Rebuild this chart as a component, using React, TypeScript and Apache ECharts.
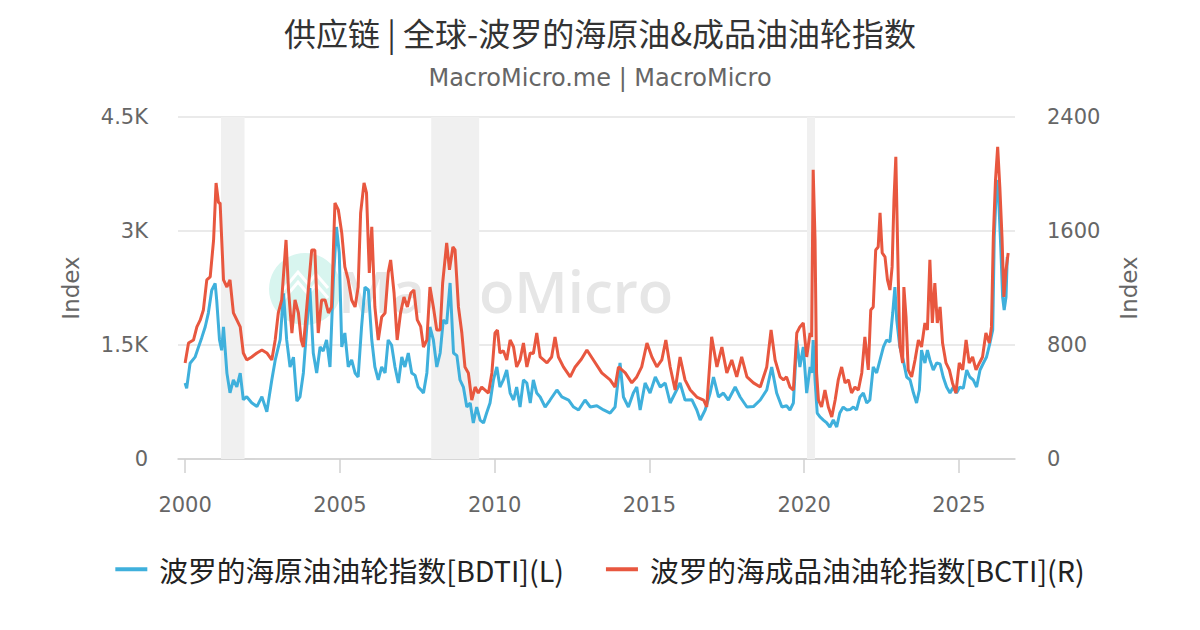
import React, { useEffect, useRef } from "react";
import * as echarts from "echarts";

const titleText = "供应链 | 全球-波罗的海原油&成品油油轮指数";
const subtitleText = "MacroMicro.me | MacroMicro";
const bdtiName = "波罗的海原油油轮指数[BDTI](L)";
const bctiName = "波罗的海成品油油轮指数[BCTI](R)";

const xTickYears = [2000, 2005, 2010, 2015, 2020, 2025];
const recessions = [
  [2001.16, 2001.92],
  [2007.95, 2009.5],
  [2020.09, 2020.35],
];

const bdtiYears = [
  2000.0, 2000.05, 2000.16, 2000.32, 2000.43, 2000.54, 2000.65, 2000.75, 2000.86, 2000.97,
  2001.02, 2001.11, 2001.18, 2001.24, 2001.35, 2001.45, 2001.56, 2001.67, 2001.78, 2001.88,
  2001.99, 2002.15, 2002.32, 2002.48, 2002.64, 2002.8, 2002.91, 2003.07, 2003.18, 2003.28,
  2003.39, 2003.5, 2003.61, 2003.71, 2003.82, 2003.93, 2004.03, 2004.14, 2004.25, 2004.36,
  2004.46, 2004.57, 2004.68, 2004.79, 2004.89, 2004.98, 2005.06, 2005.16, 2005.27, 2005.38,
  2005.49, 2005.59, 2005.7, 2005.81, 2005.92, 2006.03, 2006.13, 2006.24, 2006.35, 2006.46,
  2006.56, 2006.67, 2006.78, 2006.89, 2007.0, 2007.1, 2007.21, 2007.32, 2007.43, 2007.53,
  2007.64, 2007.7, 2007.81, 2007.91, 2008.02, 2008.13, 2008.24, 2008.34, 2008.45, 2008.56,
  2008.67, 2008.78, 2008.88, 2008.99, 2009.1, 2009.21, 2009.31, 2009.42, 2009.53, 2009.64,
  2009.74, 2009.85, 2009.96, 2010.07, 2010.17, 2010.28, 2010.39, 2010.5, 2010.61, 2010.71,
  2010.82, 2010.93, 2011.04, 2011.15, 2011.25, 2011.36, 2011.47, 2011.63, 2011.79, 2012.01,
  2012.17, 2012.39, 2012.55, 2012.71, 2012.92, 2013.09, 2013.3, 2013.52, 2013.73, 2013.89,
  2014.05, 2014.16, 2014.32, 2014.48, 2014.59, 2014.7, 2014.86, 2015.02, 2015.19, 2015.35,
  2015.51, 2015.67, 2015.83, 2015.99, 2016.15, 2016.37, 2016.53, 2016.64, 2016.8, 2016.96,
  2017.07, 2017.23, 2017.39, 2017.55, 2017.77, 2017.93, 2018.15, 2018.36, 2018.58, 2018.79,
  2018.95, 2019.11, 2019.28, 2019.43, 2019.54, 2019.65, 2019.76, 2019.86, 2019.97, 2020.08,
  2020.19, 2020.24, 2020.29, 2020.35, 2020.42, 2020.51, 2020.62, 2020.73, 2020.83, 2020.94,
  2021.05, 2021.15, 2021.26, 2021.37, 2021.48, 2021.59, 2021.69, 2021.8, 2021.91, 2022.02,
  2022.12, 2022.23, 2022.34, 2022.45, 2022.56, 2022.66, 2022.77, 2022.86, 2022.93, 2022.99,
  2023.09, 2023.2, 2023.31, 2023.42, 2023.53, 2023.63, 2023.72, 2023.79, 2023.9, 2023.98,
  2024.06, 2024.17, 2024.28, 2024.39, 2024.49, 2024.6, 2024.71, 2024.82, 2024.92, 2025.03,
  2025.14, 2025.25, 2025.35, 2025.46, 2025.57, 2025.68, 2025.79, 2025.89, 2026.0, 2026.09,
  2026.14, 2026.22, 2026.28, 2026.35, 2026.41, 2026.46, 2026.52, 2026.56,
];
const bdtiValues = [
  1000, 930, 1260, 1340, 1470, 1600, 1740, 1920, 2220, 2310,
  2090, 1570, 1430, 1740, 1130, 870, 1040, 950, 1130, 780,
  820, 740, 690, 820, 620, 1040, 1300, 1570, 2180, 1570,
  1210, 1340, 760, 816, 1132, 1737, 2250, 1395, 1132, 1474,
  1420, 1566, 1211, 2356, 3053, 2711, 1474, 1658, 1211, 1303,
  1132, 1079, 1737, 2263, 2224, 1566, 1211, 1040, 1211, 1132,
  1566, 1500, 1211, 1000, 1342, 1211, 1395, 1132, 1100, 947,
  900, 868, 1132, 1737, 1566, 1211, 1395, 1829, 1780, 2316,
  1395, 1360, 1040, 947, 684, 737, 474, 684, 513, 474,
  605, 737, 1040, 1211, 947, 1040, 1171, 868, 776, 947,
  684, 1040, 1000, 737, 1040, 868, 816, 684, 776, 908,
  816, 776, 684, 645, 776, 684, 700, 645, 605, 684,
  1263, 816, 684, 868, 947, 645, 1000, 868, 1079, 947,
  1000, 737, 868, 1000, 776, 780, 645, 513, 645, 868,
  1079, 816, 868, 776, 947, 816, 684, 690, 776, 908,
  1211, 868, 684, 700, 645, 737, 1566, 1211, 1474, 868,
  1211, 1132, 1566, 1040, 605, 553, 513, 474, 421, 513,
  421, 605, 684, 645, 650, 684, 645, 816, 868, 737,
  776, 1211, 1132, 1303, 1474, 1566, 1540, 1921, 2263, 1829,
  1474, 1300, 1079, 1040, 868, 737, 908, 1434, 1263, 1434,
  1303, 1171, 1263, 1250, 1079, 947, 868, 947, 868, 947,
  930, 1171, 1079, 1040, 947, 1171, 1263, 1342, 1526, 1697,
  2921, 3671, 3448, 2790, 2132, 1961, 2132, 2658,
];

const bctiYears = [
  2000.0, 2000.11, 2000.27, 2000.38, 2000.49, 2000.59, 2000.7, 2000.81, 2000.92, 2001.0,
  2001.08, 2001.13, 2001.24, 2001.35, 2001.45, 2001.56, 2001.67, 2001.78, 2001.88, 2001.99,
  2002.15, 2002.32, 2002.48, 2002.64, 2002.8, 2002.91, 2003.01, 2003.12, 2003.26, 2003.34,
  2003.45, 2003.55, 2003.66, 2003.75, 2003.82, 2003.93, 2004.09, 2004.19, 2004.3, 2004.41,
  2004.52, 2004.63, 2004.73, 2004.84, 2004.95, 2005.06, 2005.16, 2005.27, 2005.38, 2005.49,
  2005.59, 2005.67, 2005.78, 2005.86, 2005.95, 2006.03, 2006.13, 2006.24, 2006.35, 2006.46,
  2006.56, 2006.64, 2006.75, 2006.85, 2006.96, 2007.07, 2007.18, 2007.29, 2007.39, 2007.5,
  2007.61, 2007.7, 2007.81, 2007.91, 2008.02, 2008.13, 2008.24, 2008.32, 2008.45, 2008.54,
  2008.65, 2008.72, 2008.83, 2008.94, 2009.04, 2009.15, 2009.26, 2009.37, 2009.47, 2009.58,
  2009.69, 2009.8, 2009.91, 2010.01, 2010.09, 2010.17, 2010.28, 2010.39, 2010.5, 2010.61,
  2010.71, 2010.82, 2010.93, 2011.04, 2011.15, 2011.25, 2011.36, 2011.47, 2011.69, 2011.84,
  2011.95, 2012.06, 2012.22, 2012.44, 2012.6, 2012.8, 2012.98, 2013.19, 2013.46, 2013.73,
  2013.89, 2014.0, 2014.22, 2014.43, 2014.59, 2014.75, 2014.92, 2015.08, 2015.24, 2015.4,
  2015.53, 2015.67, 2015.83, 2015.99, 2016.15, 2016.32, 2016.53, 2016.75, 2016.85, 2017.01,
  2017.18, 2017.34, 2017.5, 2017.66, 2017.82, 2017.98, 2018.15, 2018.36, 2018.58, 2018.79,
  2018.93, 2019.06, 2019.22, 2019.33, 2019.43, 2019.54, 2019.65, 2019.76, 2019.86, 2019.97,
  2020.08, 2020.19, 2020.24, 2020.29, 2020.35, 2020.4, 2020.46, 2020.56, 2020.67, 2020.78,
  2020.89, 2021.0, 2021.1, 2021.21, 2021.32, 2021.43, 2021.53, 2021.64, 2021.75, 2021.86,
  2021.96, 2022.07, 2022.15, 2022.23, 2022.31, 2022.39, 2022.45, 2022.52, 2022.61, 2022.69,
  2022.77, 2022.84, 2022.9, 2022.96, 2023.04, 2023.09, 2023.18, 2023.22, 2023.29, 2023.36,
  2023.47, 2023.58, 2023.69, 2023.79, 2023.9, 2023.98, 2024.06, 2024.14, 2024.22, 2024.3,
  2024.39, 2024.47, 2024.58, 2024.69, 2024.79, 2024.9, 2025.01, 2025.12, 2025.23, 2025.33,
  2025.44, 2025.55, 2025.66, 2025.76, 2025.87, 2025.98, 2026.05, 2026.11, 2026.18, 2026.25,
  2026.32, 2026.39, 2026.45, 2026.52, 2026.59,
];
const bctiValues = [
  674, 814, 835, 927, 976, 1046, 1257, 1278, 1537, 1937,
  1797, 1797, 1257, 1207, 1257, 1025, 976, 927, 744, 695,
  716, 744, 765, 744, 695, 835, 1025, 1116, 1537, 1186,
  884, 1116, 1025, 835, 786, 1067, 1467, 1467, 884, 1116,
  1116, 1025, 1067, 1797, 1748, 1587, 1348, 1257, 1116, 1067,
  1207, 1727, 1937, 1867, 1306, 1629, 1067, 835, 997, 1025,
  1306, 1397, 1165, 835, 1025, 1137, 1067, 1165, 1186, 976,
  930, 786, 835, 1207, 1067, 905, 905, 1235, 1516, 1327,
  1488, 1467, 1067, 884, 646, 604, 414, 505, 463, 505,
  484, 463, 604, 884, 905, 744, 760, 695, 835, 786,
  646, 695, 814, 646, 744, 740, 884, 716, 674, 716,
  857, 716, 646, 576, 646, 700, 765, 695, 604, 555,
  505, 646, 604, 534, 576, 646, 814, 716, 646, 695,
  835, 646, 484, 716, 555, 484, 435, 414, 365, 857,
  646, 786, 604, 695, 576, 716, 576, 534, 505, 646,
  905, 695, 576, 555, 576, 505, 484, 884, 927, 955,
  716, 884, 857, 2029, 1537, 604, 414, 365, 484, 365,
  295, 414, 555, 646, 534, 555, 463, 505, 484, 604,
  857, 625, 1046, 1067, 1467, 1488, 1727, 1446, 1418, 1257,
  1186, 1348, 1818, 2120, 1257, 800, 674, 1207, 997, 625,
  576, 695, 835, 786, 955, 905, 1397, 955, 1235, 955,
  1067, 814, 674, 625, 534, 463, 674, 625, 835, 674,
  716, 625, 674, 716, 884, 814, 927, 1558, 1958, 2190,
  1909, 1558, 1137, 1327, 1446,
];

const BLUE = "#3fb0dc";
const RED = "#e8573f";
const AXIS_FONT = "DejaVu Sans";
const CJK_FONT = "Noto Sans CJK SC";

export default function App() {
  const ref = useRef<HTMLDivElement>(null);
  useEffect(() => {
    document.body.style.margin = "0";
    if (!ref.current) return;
    const chart = echarts.init(ref.current, null, { renderer: "svg" });
    const bdti = bdtiYears.map((x, i) => [x, bdtiValues[i]]);
    const bcti = bctiYears.map((x, i) => [x, bctiValues[i]]);
    chart.setOption({
      animation: false,
      backgroundColor: "#ffffff",
      title: {
        text: titleText,
        subtext: subtitleText,
        left: "center",
        top: 11,
        itemGap: 18,
        textStyle: {
          fontFamily: CJK_FONT,
          fontSize: 32,
          fontWeight: "normal",
          color: "#333333",
        },
        subtextStyle: {
          fontFamily: AXIS_FONT,
          fontSize: 24,
          color: "#666666",
        },
      },
      graphic: [
        {
          type: "group",
          silent: true,
          children: [
            { type: "circle", shape: { cx: 305, cy: 289, r: 36 }, style: { fill: "#d8f5ef" } },
            {
              type: "polyline",
              shape: { points: [[283, 300], [298, 282], [308, 294], [316, 284], [328, 298]] },
              style: { stroke: "#ffffff", lineWidth: 3, fill: "none" },
            },
            {
              type: "polyline",
              shape: { points: [[283, 290], [298, 272], [308, 284], [316, 274], [328, 288]] },
              style: { stroke: "#ffffff", lineWidth: 3, fill: "none" },
            },
            {
              type: "text",
              x: 338,
              y: 290,
              style: {
                text: "MacroMicro",
                fill: "#e6e6e6",
                fontSize: 58,
                fontWeight: 600,
                fontFamily: "Open Sans",
                verticalAlign: "middle",
              },
            },
          ],
        },
      ],
      legend: {
        left: "center",
        top: 550,
        icon: "rect",
        itemWidth: 32,
        itemHeight: 4,
        itemGap: 42,
        textStyle: { fontFamily: CJK_FONT, fontSize: 28.7, color: "#222222", padding: [0, 0, 0, 7] },
        data: [bdtiName, bctiName],
      },
      grid: { left: 178, right: 185, top: 117, bottom: 171 },
      xAxis: {
        type: "value",
        min: 1999.77,
        max: 2026.81,
        splitLine: { show: false },
        axisLine: { show: true, lineStyle: { color: "#d0d0d0", width: 1.5 } },
        axisTick: { show: true, customValues: xTickYears, length: 14, lineStyle: { color: "#d0d0d0", width: 1.5 } },
        axisLabel: {
          customValues: xTickYears,
          color: "#666666",
          fontSize: 21,
          fontFamily: AXIS_FONT,
          margin: 35,
          formatter: (v: number) => String(Math.round(v)),
        },
      },
      yAxis: [
        {
          type: "value",
          min: 0,
          max: 4500,
          interval: 1500,
          position: "left",
          name: "Index",
          nameLocation: "middle",
          nameGap: 96,
          nameTextStyle: { fontFamily: AXIS_FONT, fontSize: 23, color: "#666666" },
          axisLine: { show: false },
          axisTick: { show: false },
          splitLine: { lineStyle: { color: "#e3e3e3", width: 1.5 } },
          axisLabel: {
            color: "#666666",
            fontSize: 21,
            fontFamily: AXIS_FONT,
            margin: 30,
            formatter: (v: number) => (v === 0 ? "0" : `${v / 1000}K`),
          },
        },
        {
          type: "value",
          min: 0,
          max: 2400,
          interval: 800,
          position: "right",
          name: "Index",
          nameLocation: "middle",
          nameGap: 102,
          nameTextStyle: { fontFamily: AXIS_FONT, fontSize: 23, color: "#666666" },
          axisLine: { show: false },
          axisTick: { show: false },
          splitLine: { show: false },
          axisLabel: {
            color: "#666666",
            fontSize: 21,
            fontFamily: AXIS_FONT,
            margin: 32,
            formatter: (v: number) => String(v),
          },
        },
      ],
      series: [
        {
          type: "line",
          name: "recession",
          data: [],
          z: 1,
          silent: true,
          markArea: {
            silent: true,
            itemStyle: { color: "#f0f0f0" },
            data: recessions.map(([a, b]) => [{ xAxis: a }, { xAxis: b }]),
          },
        },
        {
          type: "line",
          name: bdtiName,
          data: bdti,
          yAxisIndex: 0,
          showSymbol: false,
          color: BLUE,
          lineStyle: { color: BLUE, width: 3 },
          z: 3,
        },
        {
          type: "line",
          name: bctiName,
          data: bcti,
          yAxisIndex: 1,
          showSymbol: false,
          color: RED,
          lineStyle: { color: RED, width: 3 },
          z: 4,
        },
      ],
    });
    return () => chart.dispose();
  }, []);
  return <div ref={ref} style={{ width: 1200, height: 630 }} />;
}
